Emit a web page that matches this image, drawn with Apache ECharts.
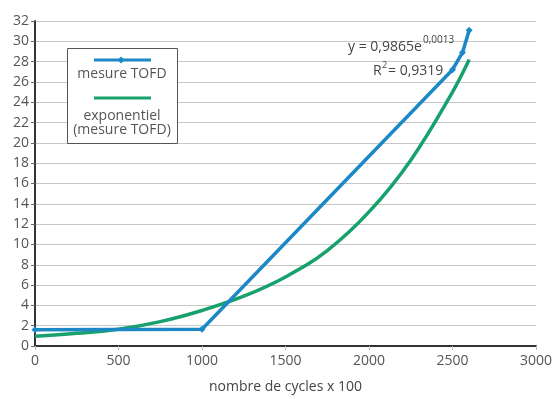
<!DOCTYPE html>
<html><head><meta charset="utf-8">
<script src="https://cdn.jsdelivr.net/npm/echarts@6/dist/echarts.min.js"></script>
<style>html,body{margin:0;padding:0;background:#fff}#c{width:555px;height:399px}</style>
</head><body><div id="c"></div>
<script>
const mesureX = [0, 1000, 2500, 2560, 2600];
const mesureY = [1.6, 1.65, 27.2, 28.9, 31.1];
const expX = [0, 250, 500, 750, 1000, 1250, 1500, 1750, 2000, 2250, 2500, 2600];
const expY = [0.95, 1.25, 1.65, 2.4, 3.5, 4.9, 6.8, 9.4, 13.2, 18.3, 25.0, 28.2];
const xTicks = [0, 500, 1000, 1500, 2000, 2500, 3000];
const yTicks = [0, 2, 4, 6, 8, 10, 12, 14, 16, 18, 20, 22, 24, 26, 28, 30, 32];
const xName = 'nombre de cycles x 100';
const legendNames = ['mesure TOFD', 'exponentiel', '(mesure TOFD)'];
const eqMain = 'y = 0,9865e';
const eqSup = '0,0013';
const r2 = '= 0,9319';

const BLUE = '#1d88c6', GREEN = '#17a16c';
const FONT = 'Open Sans';
const TXT = '#555';
const chart = echarts.init(document.getElementById('c'));
chart.setOption({
  animation: false,
  textStyle: {fontFamily: FONT},
  grid: {left: 35, right: 18, top: 21, bottom: 50},
  xAxis: {
    type: 'value', min: xTicks[0], max: xTicks[xTicks.length-1], interval: 500,
    name: xName, nameLocation: 'middle', nameGap: 34,
    nameTextStyle: {color: '#444', fontSize: 14, fontFamily: FONT},
    axisLine: {lineStyle: {color: '#333', width: 2}},
    axisTick: {show: true, inside: false, length: 4, lineStyle: {color: '#bbb'}},
    axisLabel: {color: TXT, fontSize: 14, margin: 8, fontFamily: FONT, formatter: v => String(v)},
    splitLine: {show: false}
  },
  yAxis: {
    type: 'value', min: yTicks[0], max: yTicks[yTicks.length-1], interval: 2,
    axisLine: {show: true, lineStyle: {color: '#333', width: 2}},
    axisTick: {show: true, length: 4, lineStyle: {color: '#666'}},
    axisLabel: {color: TXT, fontSize: 14, margin: 6, padding: [0, 0, 7, 0], fontFamily: FONT, formatter: v => String(v)},
    splitLine: {show: true, lineStyle: {color: '#c8c8c8', width: 1}}
  },
  series: [
    {type: 'line', name: legendNames[1], data: expX.map((x,i)=>[x, expY[i]]), smooth: 0.4,
     showSymbol: false, lineStyle: {color: GREEN, width: 3.5}, z: 2},
    {type: 'line', name: legendNames[0], data: mesureX.map((x,i)=>[x, mesureY[i]]),
     symbol: 'diamond', symbolSize: 7, showSymbol: true,
     itemStyle: {color: BLUE}, lineStyle: {color: BLUE, width: 3.5}, z: 3}
  ],
  graphic: [
    {type: 'rect', shape: {x: 67.5, y: 48.5, width: 110, height: 95},
     style: {fill: '#fff', stroke: '#555', lineWidth: 1}, z: 10},
    {type: 'line', shape: {x1: 94, y1: 60, x2: 151, y2: 60}, style: {stroke: BLUE, lineWidth: 3}, z: 11},
    {type: 'polygon', shape: {points: [[121,56.5],[124.5,60],[121,63.5],[117.5,60]]}, style: {fill: BLUE}, z: 11},
    {type: 'text', x: 122, y: 74, style: {text: legendNames[0], fill: TXT, font: '14px "Open Sans"', textAlign: 'center', textVerticalAlign: 'middle'}, z: 11},
    {type: 'line', shape: {x1: 94, y1: 98, x2: 151, y2: 98}, style: {stroke: GREEN, lineWidth: 3}, z: 11},
    {type: 'text', x: 122, y: 116, style: {text: legendNames[1], fill: TXT, font: '14px "Open Sans"', textAlign: 'center', textVerticalAlign: 'middle'}, z: 11},
    {type: 'text', x: 122, y: 130, style: {text: legendNames[2], fill: TXT, font: '14px "Open Sans"', textAlign: 'center', textVerticalAlign: 'middle'}, z: 11},
    {type: 'text', x: 348, y: 47, style: {text: eqMain, fill: '#444', font: '14px "Open Sans"', textVerticalAlign: 'middle'}, z: 11},
    {type: 'text', x: 423, y: 40, style: {text: eqSup, fill: '#444', font: '10px "Open Sans"', textVerticalAlign: 'middle'}, z: 11},
    {type: 'text', x: 373, y: 71, style: {text: 'R', fill: '#444', font: '14px "Open Sans"', textVerticalAlign: 'middle'}, z: 11},
    {type: 'text', x: 382, y: 65, style: {text: '2', fill: '#444', font: '9px "Open Sans"', textVerticalAlign: 'middle'}, z: 11},
    {type: 'text', x: 388, y: 71, style: {text: r2, fill: '#444', font: '14px "Open Sans"', textVerticalAlign: 'middle'}, z: 11}
  ]
});
</script></body></html>
